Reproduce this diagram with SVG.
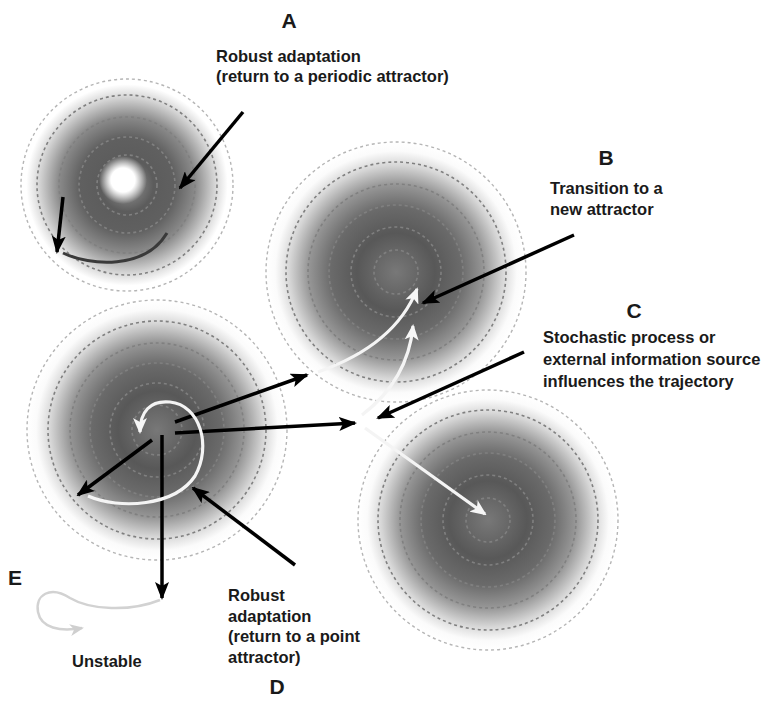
<svg xmlns="http://www.w3.org/2000/svg" width="775" height="701" viewBox="0 0 775 701">
<defs>
<radialGradient id="gMain" cx="0.5" cy="0.5" r="0.5">
<stop offset="0" stop-color="#787878"/>
<stop offset="0.15" stop-color="#686868"/>
<stop offset="0.3" stop-color="#585858"/>
<stop offset="0.5" stop-color="#6a6a6a"/>
<stop offset="0.68" stop-color="#989898"/>
<stop offset="0.82" stop-color="#d6d6d6"/>
<stop offset="0.93" stop-color="#fbfbfb"/>
<stop offset="1" stop-color="#ffffff"/>
</radialGradient>
<radialGradient id="gA" cx="0.5" cy="0.5" r="0.5">
<stop offset="0" stop-color="#9a9a9a"/>
<stop offset="0.25" stop-color="#5c5c5c"/>
<stop offset="0.45" stop-color="#606060"/>
<stop offset="0.65" stop-color="#8c8c8c"/>
<stop offset="0.82" stop-color="#d2d2d2"/>
<stop offset="0.95" stop-color="#ffffff"/>
</radialGradient>
<radialGradient id="gSpot" cx="0.5" cy="0.5" r="0.5">
<stop offset="0" stop-color="#ffffff" stop-opacity="1"/>
<stop offset="0.5" stop-color="#ffffff" stop-opacity="1"/>
<stop offset="1" stop-color="#ffffff" stop-opacity="0"/>
</radialGradient>
<marker id="ahBlack" markerUnits="userSpaceOnUse" markerWidth="18" markerHeight="14" viewBox="0 0 18 14" refX="16" refY="7" orient="auto">
<path d="M0,0 L18,7 L0,14 L4,7 z" fill="#000"/>
</marker>
<marker id="ahWhite" markerUnits="userSpaceOnUse" markerWidth="16" markerHeight="14" viewBox="0 0 16 14" refX="14" refY="7" orient="auto">
<path d="M0,0 L16,7 L0,14 L4,7 z" fill="#f6f6f6"/>
</marker>
<marker id="ahGray" markerUnits="userSpaceOnUse" markerWidth="14" markerHeight="12" viewBox="0 0 14 12" refX="12" refY="6" orient="auto">
<path d="M0,0 L14,6 L0,12 L4,6 z" fill="#cfcfcf"/>
</marker>
</defs>
<style>
.ring{fill:none;stroke:#808080;stroke-width:1.6;stroke-dasharray:3 3}
.outer{fill:none;stroke:#b5b5b5;stroke-width:1.4;stroke-dasharray:3 3}
.blk{fill:none;stroke:#000;stroke-width:3.5;marker-end:url(#ahBlack)}
.wht{fill:none;stroke:#f4f4f4;stroke-width:3.2;marker-end:url(#ahWhite)}
.lbl{font-family:"Liberation Sans",Arial,sans-serif;font-weight:bold;font-size:16.5px;fill:#1a1a1a}
.let{font-family:"Liberation Sans",Arial,sans-serif;font-weight:bold;font-size:21px;fill:#1a1a1a}
</style>
<rect width="775" height="701" fill="#ffffff"/>

<g id="attractorA">
<circle cx="127" cy="185" r="106" fill="url(#gA)"/>
<circle cx="123" cy="180" r="24" fill="url(#gSpot)"/>
<circle class="outer" cx="127" cy="185" r="106"/>
<circle class="ring" cx="127" cy="185" r="90"/>
<circle class="ring" cx="127" cy="185" r="68"/>
<circle class="ring" cx="127" cy="185" r="48"/>
<circle class="ring" cx="127" cy="185" r="30"/>
</g>

<g id="attractorB">
<circle cx="396" cy="272" r="130" fill="url(#gMain)"/>
<circle class="outer" cx="396" cy="272" r="130"/>
<circle class="ring" cx="396" cy="272" r="110"/>
<circle class="ring" cx="396" cy="272" r="88"/>
<circle class="ring" cx="396" cy="272" r="67"/>
<circle class="ring" cx="396" cy="272" r="45"/>
<circle class="ring" cx="396" cy="272" r="22"/>
</g>

<g id="attractorD">
<circle cx="157" cy="430" r="130" fill="url(#gMain)"/>
<circle class="outer" cx="157" cy="430" r="130"/>
<circle class="ring" cx="157" cy="430" r="109"/>
<circle class="ring" cx="157" cy="430" r="87"/>
<circle class="ring" cx="157" cy="430" r="67"/>
<circle class="ring" cx="157" cy="430" r="47"/>
<circle class="ring" cx="157" cy="430" r="25"/>
</g>

<g id="attractorC">
<circle cx="488" cy="520" r="130" fill="url(#gMain)"/>
<circle class="outer" cx="488" cy="520" r="130"/>
<circle class="ring" cx="488" cy="520" r="110"/>
<circle class="ring" cx="488" cy="520" r="88"/>
<circle class="ring" cx="488" cy="520" r="67"/>
<circle class="ring" cx="488" cy="520" r="45"/>
<circle class="ring" cx="488" cy="520" r="22"/>
</g>

<g id="connectors">
<path d="M63,253 C90,266 145,270 167,233" fill="none" stroke="#3a3a3a" stroke-width="3"/>
<path class="blk" d="M243,112 L180,188"/>
<path class="blk" d="M63,197 L57,252"/>
<path class="blk" d="M574,235 L423,303"/>
<path class="blk" d="M524,352 L378,418"/>
<path class="wht" d="M318,372 Q395,345 417,289"/>
<path class="wht" d="M362,415 Q408,380 413,326"/>
<path class="wht" d="M365,428 L485,514"/>
<path class="blk" d="M175,422 L307,375"/>
<path class="blk" d="M175,433 L355,423"/>
<path class="blk" d="M152,440 L78,495"/>
<path class="blk" d="M162,435 L162,598"/>
<path class="blk" d="M295,565 L193,488"/>
<path class="wht" d="M88,496 C120,510 175,506 195,476 C212,446 200,405 170,402 C150,400 140,412 140,432"/>
<path d="M160,600 C130,612 90,610 70,598 C50,585 35,595 38,612 C41,628 60,632 82,628" fill="none" stroke="#d2d2d2" stroke-width="2.5" marker-end="url(#ahGray)"/>
</g>

<g id="labelA">
<text class="let" x="289" y="28" text-anchor="middle">A</text>
<text class="lbl" x="216" y="62">Robust adaptation</text>
<text class="lbl" x="216" y="82">(return to a periodic attractor)</text>
</g>
<g id="labelB">
<text class="let" x="606" y="165" text-anchor="middle">B</text>
<text class="lbl" x="550" y="194">Transition to a</text>
<text class="lbl" x="550" y="215">new attractor</text>
</g>
<g id="labelC">
<text class="let" x="634" y="318" text-anchor="middle">C</text>
<text class="lbl" x="543" y="343">Stochastic process or</text>
<text class="lbl" x="543" y="365">external information source</text>
<text class="lbl" x="543" y="387">influences the trajectory</text>
</g>
<g id="labelD">
<text class="lbl" x="228" y="601">Robust</text>
<text class="lbl" x="228" y="622">adaptation</text>
<text class="lbl" x="228" y="642">(return to a point</text>
<text class="lbl" x="228" y="663">attractor)</text>
<text class="let" x="277" y="694" text-anchor="middle">D</text>
</g>
<g id="labelE">
<text class="let" x="8" y="585">E</text>
<text class="lbl" x="72" y="667">Unstable</text>
</g>
</svg>
